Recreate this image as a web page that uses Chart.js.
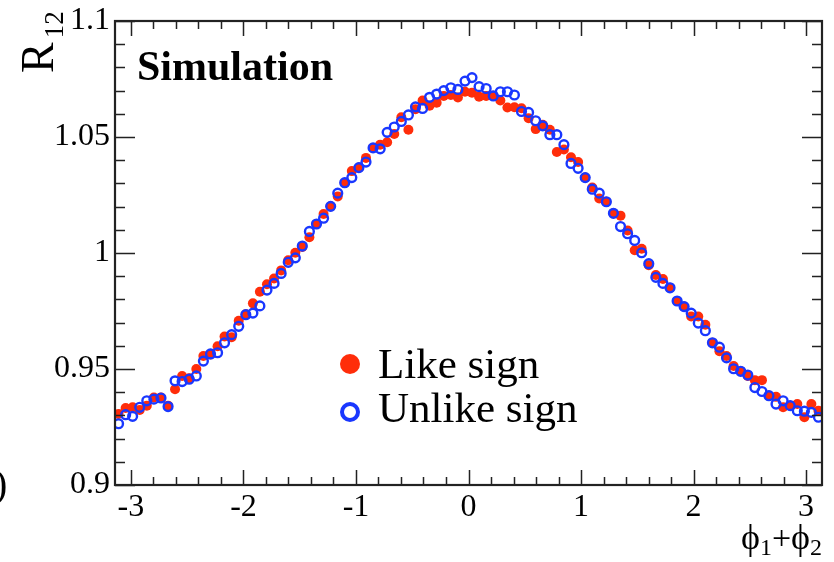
<!DOCTYPE html>
<html>
<head>
<meta charset="utf-8">
<script src="https://cdn.jsdelivr.net/npm/chart.js@4.4.1/dist/chart.umd.min.js"></script>
<style>
  html, body { margin: 0; padding: 0; background: #fff; }
  #wrap { width: 834px; height: 562px; }
</style>
</head>
<body>
<div id="wrap"><canvas id="r12Chart" width="834" height="562"></canvas></div>
<script>
// bin centres of phi1+phi2 (100 bins over -pi..pi)
const binCenters = [
  -3.110, -3.047, -2.985, -2.922, -2.859, -2.796, -2.733, -2.670, -2.608, -2.545,
  -2.482, -2.419, -2.356, -2.293, -2.230, -2.168, -2.105, -2.042, -1.979, -1.916,
  -1.854, -1.791, -1.728, -1.665, -1.602, -1.539, -1.477, -1.414, -1.351, -1.288,
  -1.225, -1.162, -1.100, -1.037, -0.974, -0.911, -0.848, -0.785, -0.723, -0.660,
  -0.597, -0.534, -0.471, -0.408, -0.346, -0.283, -0.220, -0.157, -0.094, -0.031,
   0.031,  0.094,  0.157,  0.220,  0.283,  0.346,  0.408,  0.471,  0.534,  0.597,
   0.660,  0.723,  0.785,  0.848,  0.911,  0.974,  1.037,  1.100,  1.162,  1.225,
   1.288,  1.351,  1.414,  1.477,  1.539,  1.602,  1.665,  1.728,  1.791,  1.854,
   1.916,  1.979,  2.042,  2.105,  2.168,  2.230,  2.293,  2.356,  2.419,  2.482,
   2.545,  2.608,  2.670,  2.733,  2.796,  2.859,  2.922,  2.985,  3.047,  3.110
];

const likeSign = [
  0.9306, 0.9332, 0.9335, 0.9323, 0.9342, 0.9377, 0.9377, 0.9342, 0.9413, 0.9470,
  0.9460, 0.9500, 0.9556, 0.9563, 0.9598, 0.9640, 0.9637, 0.9708, 0.9736, 0.9783,
  0.9833, 0.9865, 0.9890, 0.9925, 0.9969, 1.0001, 1.0026, 1.0068, 1.0125, 1.0168,
  1.0201, 1.0244, 1.0303, 1.0353, 1.0368, 1.0410, 1.0453, 1.0467, 1.0477, 1.0513,
  1.0585, 1.0531, 1.0620, 1.0657, 1.0635, 1.0648, 1.0677, 1.0681, 1.0670, 1.0695,
  1.0691, 1.0674, 1.0677, 1.0678, 1.0657, 1.0627, 1.0628, 1.0624, 1.0581, 1.0534,
  1.0553, 1.0531, 1.0435, 1.0446, 1.0413, 1.0392, 1.0325, 1.0282, 1.0235, 1.0221,
  1.0171, 1.0161, 1.0097, 1.0012, 1.0018, 0.9947, 0.9905, 0.9888, 0.9850, 0.9793,
  0.9769, 0.9726, 0.9726, 0.9691, 0.9613, 0.9577, 0.9556, 0.9513, 0.9490, 0.9470,
  0.9452, 0.9452, 0.9385, 0.9380, 0.9335, 0.9342, 0.9349, 0.9292, 0.9349, 0.9320
];

const unlikeSign = [
  0.9264, 0.9303, 0.9296, 0.9335, 0.9363, 0.9370, 0.9375, 0.9338, 0.9449, 0.9446,
  0.9456, 0.9470, 0.9534, 0.9565, 0.9570, 0.9613, 0.9648, 0.9684, 0.9734, 0.9741,
  0.9772, 0.9840, 0.9869, 0.9912, 0.9960, 0.9979, 1.0030, 1.0093, 1.0125, 1.0150,
  1.0201, 1.0258, 1.0303, 1.0325, 1.0368, 1.0392, 1.0453, 1.0449, 1.0520, 1.0543,
  1.0567, 1.0595, 1.0630, 1.0623, 1.0671, 1.0685, 1.0700, 1.0712, 1.0705, 1.0741,
  1.0756, 1.0717, 1.0709, 1.0677, 1.0695, 1.0695, 1.0681, 1.0610, 1.0606, 1.0570,
  1.0548, 1.0510, 1.0510, 1.0467, 1.0386, 1.0365, 1.0325, 1.0275, 1.0258, 1.0221,
  1.0171, 1.0114, 1.0083, 1.0054, 1.0001, 0.9954, 0.9895, 0.9869, 0.9850, 0.9793,
  0.9769, 0.9741, 0.9698, 0.9665, 0.9613, 0.9594, 0.9548, 0.9501, 0.9490, 0.9474,
  0.9420, 0.9403, 0.9385, 0.9349, 0.9363, 0.9342, 0.9320, 0.9318, 0.9313, 0.9292
];

const xTickValues = [-3, -2, -1, 0, 1, 2, 3];
const yTickValues = [0.9, 0.95, 1, 1.05, 1.1];
const seriesLabels = ['Like sign', 'Unlike sign'];

const RED = 'rgb(255, 45, 10)';
const BLUE = 'rgb(25, 55, 255)';
const SERIF = '"Liberation Serif", "Times New Roman", serif';

// frame, inward ticks, titles and the legend box
const decorations = {
    id: 'decorations',
    afterDraw(chart) {
        const { ctx, chartArea: a, scales } = chart;
        const xs = scales.x, ys = scales.y;
        ctx.save();
        ctx.strokeStyle = '#222';
        ctx.lineWidth = 1.5;

        // y ticks, left and right
        for (let k = 0; k <= 20; k++) {
            const v = 0.9 + k * 0.01;
            const py = Math.round(ys.getPixelForValue(v)) + 0.5;
            const len = (k % 5 === 0) ? 20 : 10;
            ctx.beginPath();
            ctx.moveTo(a.left, py); ctx.lineTo(a.left + len, py);
            ctx.moveTo(a.right, py); ctx.lineTo(a.right - len, py);
            ctx.stroke();
        }
        // x ticks, bottom and top
        for (let k = -16; k <= 16; k++) {
            const v = k * 0.2;
            if (v < xs.min || v > xs.max) continue;
            const px = Math.round(xs.getPixelForValue(v)) + 0.5;
            const len = (k % 5 === 0) ? 15 : 8;
            ctx.beginPath();
            ctx.moveTo(px, a.bottom); ctx.lineTo(px, a.bottom - len);
            ctx.moveTo(px, a.top); ctx.lineTo(px, a.top + len);
            ctx.stroke();
        }
        // frame
        ctx.lineWidth = 2.2;
        ctx.strokeRect(a.left, a.top, a.right - a.left, a.bottom - a.top);

        ctx.fillStyle = '#000';
        ctx.textBaseline = 'alphabetic';

        // "Simulation"
        ctx.textAlign = 'left';
        ctx.font = 'bold 42px ' + SERIF;
        ctx.fillText('Simulation', 137, 80);

        // y title R_12 (rotated)
        ctx.save();
        ctx.translate(53, 73);
        ctx.rotate(-Math.PI / 2);
        ctx.font = '46px ' + SERIF;
        ctx.fillText('R', 0, 0);
        const wR = ctx.measureText('R').width;
        ctx.font = '27px ' + SERIF;
        ctx.fillText('12', wR + 4, 10);
        ctx.restore();

        // x title phi1+phi2, right aligned
        const parts = [
            ['\u03D5', 36, 0], ['1', 24, 6], ['+', 34, 0], ['\u03D5', 36, 0], ['2', 24, 6]
        ];
        let total = 0;
        parts.forEach(p => { ctx.font = p[1] + 'px ' + SERIF; total += ctx.measureText(p[0]).width; });
        let cx = a.right - total;
        parts.forEach(p => {
            ctx.font = p[1] + 'px ' + SERIF;
            ctx.fillText(p[0], cx, 549 + p[2]);
            cx += ctx.measureText(p[0]).width;
        });

        // edge of the neighbouring panel
        ctx.font = '40px ' + SERIF;
        ctx.fillText(')', -6, 497);

        // legend
        ctx.font = '43px ' + SERIF;
        ctx.fillStyle = RED;
        ctx.beginPath(); ctx.arc(350, 364, 10, 0, Math.PI * 2); ctx.fill();
        ctx.strokeStyle = BLUE; ctx.lineWidth = 4;
        ctx.beginPath(); ctx.arc(350, 412, 8, 0, Math.PI * 2); ctx.stroke();
        ctx.fillStyle = '#000';
        ctx.fillText(seriesLabels[0], 378, 378);
        ctx.fillText(seriesLabels[1], 378, 422);
        ctx.restore();
    }
};

const ctx = document.getElementById('r12Chart').getContext('2d');
new Chart(ctx, {
    type: 'scatter',
    data: {
        datasets: [{
            label: seriesLabels[0],
            data: likeSign.map((y, i) => ({ x: binCenters[i], y })),
            backgroundColor: RED,
            borderColor: RED,
            borderWidth: 0,
            pointRadius: 5,
            order: 2
        }, {
            label: seriesLabels[1],
            data: unlikeSign.map((y, i) => ({ x: binCenters[i], y })),
            backgroundColor: 'rgba(0,0,0,0)',
            borderColor: BLUE,
            borderWidth: 2.4,
            pointRadius: 4.4,
            order: 1
        }]
    },
    options: {
        responsive: false,
        animation: false,
        layout: { padding: { top: 17, right: 12, left: 0, bottom: 0 } },
        plugins: { legend: { display: false }, tooltip: { enabled: false } },
        scales: {
            x: {
                type: 'linear',
                min: -Math.PI,
                max: Math.PI,
                afterBuildTicks: s => { s.ticks = xTickValues.map(v => ({ value: v })); },
                afterFit: s => { s.height = 77; },
                grid: { display: false, drawTicks: false },
                border: { display: false },
                ticks: {
                    autoSkip: false, maxRotation: 0, padding: 7, color: '#000',
                    font: { family: SERIF, size: 32, lineHeight: 1 }
                }
            },
            y: {
                min: 0.9,
                max: 1.1,
                afterBuildTicks: s => { s.ticks = yTickValues.map(v => ({ value: v })); },
                afterFit: s => { s.width = 115; },
                grid: { display: false, drawTicks: false },
                border: { display: false },
                ticks: {
                    padding: 5, color: '#000',
                    font: { family: SERIF, size: 32, lineHeight: 1 },
                    callback: v => String(+v.toFixed(2))
                }
            }
        }
    },
    plugins: [decorations]
});
</script>
</body>
</html>
